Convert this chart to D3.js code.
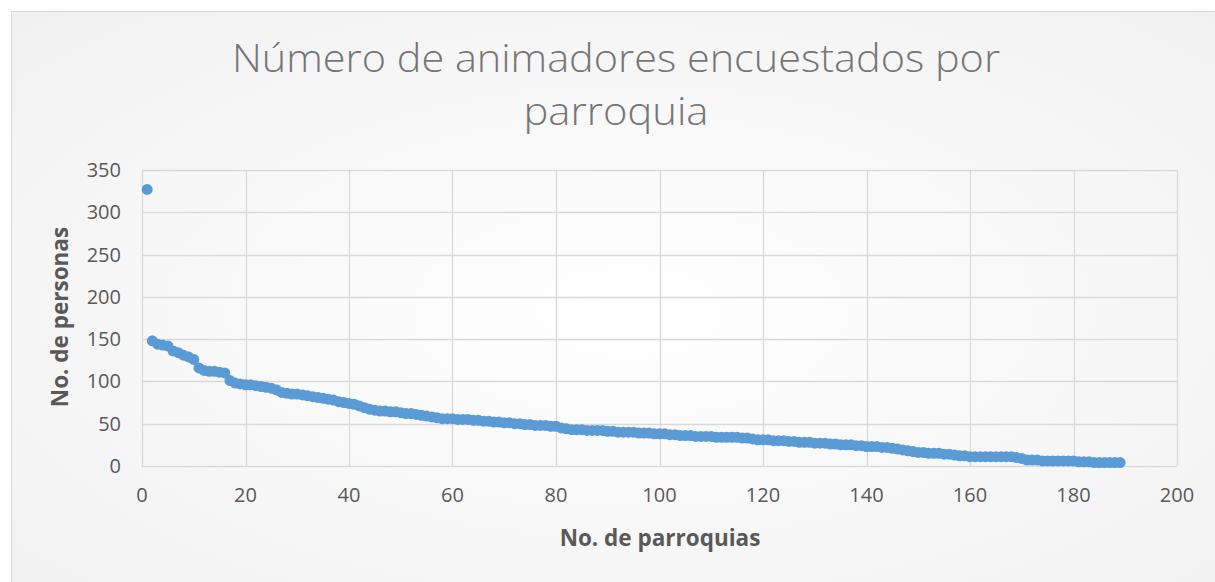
<!DOCTYPE html>
<html>
<head>
<meta charset="utf-8">
<script src="https://cdn.jsdelivr.net/npm/d3@7"></script>
<style>
  body { margin: 0; background: #fff; }
  svg { display: block; }
</style>
</head>
<body>
<div id="chart"></div>
<script>
// Datos: número de animadores por parroquia (ordenado de mayor a menor)
const personas = [
  327, 148, 144, 143, 142, 136, 134, 131, 129, 126,
  116, 113, 112, 112, 111, 110, 101, 98, 97, 96,
  96, 95, 94, 93, 92, 90, 87, 86, 85, 85,
  84, 83, 82, 81, 80, 79, 78, 76, 75, 74,
  73, 71, 69, 67, 66, 65, 65, 64, 64, 63,
  62, 62, 61, 60, 59, 58, 57, 56, 56, 56,
  55, 55, 55, 54, 54, 53, 53, 52, 52, 51,
  51, 50, 50, 49, 49, 48, 48, 48, 47, 47,
  45, 44, 43, 43, 43, 42, 42, 42, 42, 41,
  41, 40, 40, 40, 40, 39, 39, 39, 38, 38,
  38, 37, 37, 36, 36, 36, 35, 35, 35, 35,
  34, 34, 34, 34, 34, 33, 33, 32, 31, 31,
  31, 30, 30, 30, 29, 29, 28, 28, 28, 27,
  27, 27, 26, 26, 25, 25, 25, 24, 24, 23,
  23, 23, 22, 22, 21, 20, 19, 18, 17, 16,
  16, 15, 15, 15, 14, 14, 13, 12, 12, 11,
  11, 11, 11, 11, 11, 11, 11, 11, 10, 9,
  7, 7, 7, 6, 6, 6, 6, 6, 6, 6,
  5, 5, 5, 4, 4, 4, 4, 4, 4
];
const xTicks = [0, 20, 40, 60, 80, 100, 120, 140, 160, 180, 200];
const yTicks = [0, 50, 100, 150, 200, 250, 300, 350];
const tituloLineas = ["Número de animadores encuestados por", "parroquia"];
const tituloX = "No. de parroquias";
const tituloY = "No. de personas";

const W = 1215, H = 582;
const plotLeft = 142, plotRight = 1177, plotTop = 170, plotBottom = 466;

const svg = d3.select("#chart").append("svg")
  .attr("width", W).attr("height", H);

// Fondo con degradado radial (como el de Excel)
const defs = svg.append("defs");
const grad = defs.append("radialGradient")
  .attr("id", "bg").attr("cx", "50%").attr("cy", "50%").attr("r", "75%");
grad.append("stop").attr("offset", "0%").attr("stop-color", "#ffffff");
grad.append("stop").attr("offset", "100%").attr("stop-color", "#f0f0f0");

svg.append("rect")
  .attr("x", 11.5).attr("y", 11.5)
  .attr("width", W + 20).attr("height", H + 20)
  .attr("fill", "url(#bg)")
  .attr("stroke", "#d9d9d9").attr("stroke-width", 1);

// Escalas
const x = d3.scaleLinear().domain([0, 200]).range([plotLeft, plotRight]);
const y = d3.scaleLinear().domain([0, 350]).range([plotBottom, plotTop]);

// Cuadrícula
const grid = svg.append("g");
grid.selectAll(".gx").data(xTicks).enter().append("line")
  .attr("x1", d => Math.round(x(d)) + 0.5).attr("x2", d => Math.round(x(d)) + 0.5)
  .attr("y1", plotTop).attr("y2", plotBottom)
  .attr("stroke", "#d9d9d9").attr("stroke-width", 1.3);
grid.selectAll(".gy").data(yTicks).enter().append("line")
  .attr("x1", plotLeft).attr("x2", plotRight)
  .attr("y1", d => Math.round(y(d)) + 0.5).attr("y2", d => Math.round(y(d)) + 0.5)
  .attr("stroke", "#d9d9d9").attr("stroke-width", 1.3);

// Etiquetas de ejes
const font = "'Open Sans', 'Liberation Sans', sans-serif";
svg.append("g").selectAll("text").data(yTicks).enter().append("text")
  .attr("x", 121).attr("y", d => y(d) + 7)
  .attr("text-anchor", "end")
  .style("font-family", font).style("font-size", "20px").style("fill", "#595959")
  .text(d => d);
svg.append("g").selectAll("text").data(xTicks).enter().append("text")
  .attr("x", d => x(d)).attr("y", 502)
  .attr("text-anchor", "middle")
  .style("font-family", font).style("font-size", "20px").style("fill", "#595959")
  .text(d => d);

// Títulos de ejes
svg.append("text")
  .attr("x", 660).attr("y", 546)
  .attr("text-anchor", "middle")
  .style("font-family", font).style("font-size", "22.5px").style("font-weight", "bold")
  .style("fill", "#595959")
  .text(tituloX);
svg.append("text")
  .attr("transform", `translate(68,317) rotate(-90)`)
  .attr("text-anchor", "middle")
  .style("font-family", font).style("font-size", "22.5px").style("font-weight", "bold")
  .style("fill", "#595959")
  .text(tituloY);

// Título
const anchos = [768, 185];
svg.append("g").selectAll("text").data(tituloLineas).enter().append("text")
  .attr("x", 616).attr("y", (d, i) => 72 + i * 53)
  .attr("text-anchor", "middle")
  .attr("textLength", (d, i) => anchos[i])
  .attr("lengthAdjust", "spacingAndGlyphs")
  .style("font-family", "'Open Sans', sans-serif").style("font-size", "38px")
  .style("font-weight", 300).style("fill", "#767676")
  .text(d => d);

// Puntos
svg.append("g").selectAll("circle").data(personas).enter().append("circle")
  .attr("cx", (d, i) => x(i + 1))
  .attr("cy", d => y(d))
  .attr("r", 5.5)
  .attr("fill", "#5b9bd5");
</script>
</body>
</html>
